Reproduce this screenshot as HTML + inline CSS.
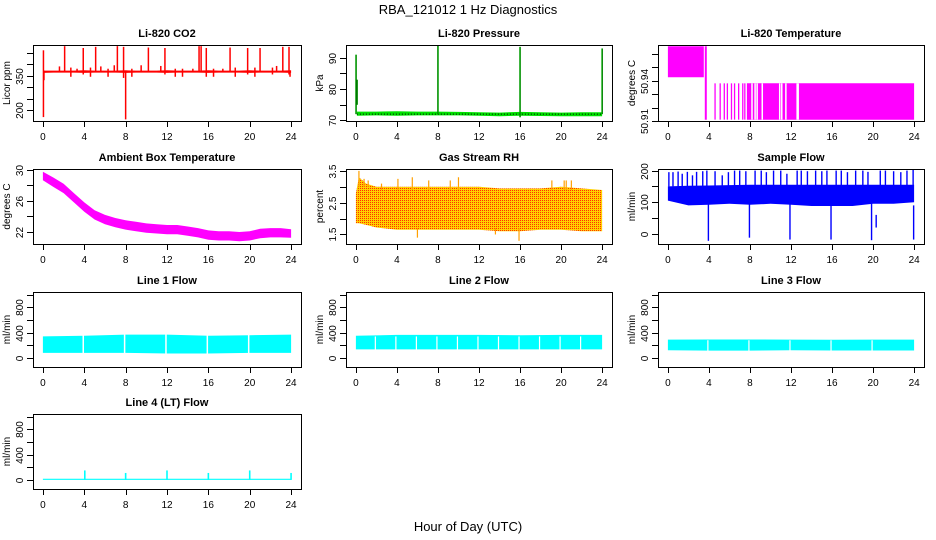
<!DOCTYPE html>
<html><head><meta charset="utf-8">
<style>
html,body{margin:0;padding:0;background:#fff;}
svg{display:block;font-family:"Liberation Sans",Helvetica,sans-serif;}
</style></head>
<body>
<svg id="chart" width="936" height="540" viewBox="0 0 936 540">
<defs>
<pattern id="rhpat" width="2" height="2" patternUnits="userSpaceOnUse">
<rect width="2" height="2" fill="#ffd000"/><rect width="1" height="1" fill="#ff3000"/>
</pattern>
</defs>
<text x="468" y="14" text-anchor="middle" font-size="13">RBA_121012  1 Hz Diagnostics</text>
<text x="468" y="531" text-anchor="middle" font-size="13">Hour of Day (UTC)</text>
</svg>
<script>
// ---- shared x axis ----
const xTicks = [0,4,8,12,16,20,24];
// ---- CO2 ----
const co2Hours = [0.05,1,2,3,4,5,6,7,8,9,10,11,12,13,14,15,16,17,18,19,20,21,22,23,24];
const co2Lo = [362,363,363,363,362,363,363,363,362,363,363,363,362,363,363,363,362,363,363,363,362,363,363,363,362];
const co2Hi = [372,372,372,372,373,372,372,372,373,372,372,372,373,372,372,372,373,372,372,372,373,372,372,372,373];
const co2SpikeX = [0.05,0.1,2.1,3.9,5.1,7.2,7.8,8.0,10.2,11.8,15.1,15.3,15.8,18.1,19.8,21.0,23.2,23.8,1.6,2.7,3.3,4.6,5.6,6.3,6.9,8.6,9.5,11.4,12.8,13.5,14.5,16.5,17.4,18.6,20.5,22.2,22.6,23.9];
const co2SpikeLo = [170,330,365,355,365,365,340,160,365,355,365,365,345,365,355,365,365,355,365,345,365,345,365,345,365,345,365,365,345,345,365,345,365,345,345,355,365,345];
const co2SpikeHi = [460,372,478,470,475,478,475,372,472,470,478,478,470,472,470,470,475,475,390,385,380,385,390,380,395,380,395,392,380,380,380,380,380,385,385,385,392,372];
// ---- Pressure ----
const presHours = [0.1,2,4,6,8,10,12,14,16,18,20,22,24];
const presLo = [71.5,71.6,71.5,71.6,71.6,71.6,71.5,71.3,71.5,71.4,71.3,71.3,71.3];
const presHi = [72.8,72.8,72.9,72.8,72.8,72.7,72.6,72.5,72.7,72.6,72.5,72.6,72.6];
const presSpikeX = [0.02,0.12,8.0,16.0,24.0];
const presSpikeLo = [72,75,72,71,72];
const presSpikeHi = [91,83,94,93.5,93];
// ---- Li-820 temperature ----
const ltHours = [0,3.5,3.6,3.8,7.7,24];
const ltLo = [50.9425,50.9425,50.911,50.911,50.911,50.911];
const ltHi = [50.9655,50.9655,50.9655,50.9655,50.938,50.938];
const ltLineX = [4.6,5.1,5.5,5.8,6.2,6.5,6.9,7.3,7.5];
const ltGapX = [8.2,8.5,8.7,9.2,10.9,11.1,11.5,12.6,12.7];
// ---- Ambient box temperature ----
const abHours = [0,1,2,3,4,5,6,7,8,9,10,11,12,13,14,15,16,17,18,19,20,21,22,23,24];
const abCenter = [29.2,28.4,27.6,26.4,25.2,24.2,23.6,23.2,22.9,22.7,22.5,22.4,22.3,22.3,22.1,21.9,21.6,21.5,21.5,21.4,21.5,21.8,21.9,21.9,21.8];
const abHalfWidth = [0.55,0.6,0.6,0.6,0.6,0.6,0.6,0.6,0.6,0.6,0.6,0.6,0.6,0.6,0.6,0.6,0.6,0.6,0.6,0.6,0.6,0.6,0.6,0.6,0.55];
// ---- Gas stream RH ----
const rhHours = [0,0.3,1,2,4,6,8,10,12,14,16,18,20,22,24];
const rhLo = [1.85,1.85,1.8,1.72,1.65,1.65,1.65,1.65,1.65,1.6,1.6,1.65,1.65,1.6,1.6];
const rhHi = [2.8,3.3,3.1,3.0,3.0,3.0,3.0,3.0,3.0,2.95,2.95,2.95,3.0,2.95,2.9];
const rhSpikeX = [0.3,0.8,1.2,2.5,4.1,5.5,6.0,7.1,9.2,10.0,13.6,15.9,19.1,20.3,20.5,21.0];
const rhSpikeLo = [3.0,3.0,3.0,2.9,2.9,2.9,1.4,2.9,2.9,2.9,1.5,1.3,2.9,2.9,2.9,2.9];
const rhSpikeHi = [3.5,3.25,3.2,3.1,3.25,3.3,1.7,3.2,3.2,3.3,1.7,1.7,3.2,3.2,3.2,3.2];
// ---- Sample flow ----
const sfHours = [0,2,4,6,8,10,12,14,16,18,20,22,24];
const sfLo = [105,90,92,95,92,95,92,88,88,88,95,95,100];
const sfHi = [150,152,153,154,155,155,155,155,155,155,155,155,155];
const sfSpikeX = [0.1,0.5,1.0,1.4,1.9,2.4,2.8,3.4,3.8,4.6,5.3,5.9,6.5,7.0,7.6,8.5,9.1,9.6,10.3,11.0,11.6,12.6,13.0,13.6,14.4,15.0,15.5,16.4,16.9,17.5,18.3,19.0,19.5,20.7,21.2,22.0,22.7,23.3,23.9,3.95,7.95,11.9,15.9,19.85,20.3,23.95];
const sfSpikeLo = [150,150,150,150,150,150,150,150,150,150,150,150,150,150,150,150,150,150,150,150,150,150,150,150,150,150,150,150,150,150,150,150,150,150,150,150,150,150,150,-22,-12,-18,-18,-20,20,-18];
const sfSpikeHi = [195,195,197,190,196,185,196,198,200,198,185,195,200,200,198,200,200,195,200,200,190,200,200,198,200,198,200,200,200,195,200,200,196,200,200,198,195,200,203,150,150,150,150,150,60,90];
// ---- Line flows ----
const flowHours = [0,4,8,12,16,20,24];
const l1Lo = [80,80,80,70,70,80,80];
const l1Hi = [340,350,370,370,350,360,370];
const l2Lo = [135,135,135,135,135,135,135];
const l2Hi = [350,365,365,365,360,365,365];
const l3Lo = [120,115,115,120,118,118,118];
const l3Hi = [290,292,292,290,288,290,290];
const l4Lo = [0,0,0,0,0,0,0];
const l4Hi = [18,18,18,18,18,18,18];
const flowGapX = [3.9,7.9,11.9,15.9,19.9];
const l4SpikeX = [4.05,8.0,12.0,16.0,20.0,24.0];
const l4SpikeHi = [150,110,150,110,150,110];
// ---- axis ticks ----
const co2Ticks = [200,250,300,350,400,450];
const co2TickLabels = ["200","","","350","",""];
const presTicks = [70,75,80,85,90];
const presTickLabels = ["70","","80","","90"];
const ltTicks = [50.91,50.92,50.93,50.94,50.95,50.96];
const ltTickLabels = ["50.91","","","50.94","",""];
const abTicks = [22,24,26,28,30];
const abTickLabels = ["22","","26","","30"];
const rhTicks = [1.5,2.0,2.5,3.0,3.5];
const rhTickLabels = ["1.5","","2.5","","3.5"];
const sfTicks = [0,50,100,150,200];
const sfTickLabels = ["0","","100","","200"];
const flowTicks = [-200,0,200,400,600,800,1000];
const flowTickLabels = ["","0","","400","","800",""];

const NS = "http://www.w3.org/2000/svg";
const svg = document.getElementById("chart");
function mk(tag, attrs, parent){const e=document.createElementNS(NS,tag);for(const k in attrs)e.setAttribute(k,attrs[k]);(parent||svg).appendChild(e);return e;}

const cols = [[33,301],[346,612],[658,924]];
const rows = [[45,121],[169,244],[292,367],[414,489]];

function panel(name, title, ylab, c, r, ymin, ymax, ticks, tlabels){
  const [x0,x1]=cols[c],[y0,y1]=rows[r];
  const g = mk("g",{});
  
  
  const xs = v => x0 + (v+0.96)/25.92*(x1-x0);
  const ys = v => y1 - (v-ymin)/(ymax-ymin)*(y1-y0);
  const t = mk("text",{x:(x0+x1)/2,y:y0-8,"text-anchor":"middle","font-size":"11","font-weight":"bold"},g);
  t.textContent = title;
  
  
  const yl = mk("text",{transform:`translate(${x0-23},${(y0+y1)/2}) rotate(-90)`,"text-anchor":"middle","font-size":"10"},g);
  yl.textContent = ylab;
  
  
  const plot = mk("g",{},g);
  
  
  const ax = mk("g",{stroke:"#000","stroke-width":"1",fill:"none"},g);
  
  
  mk("rect",{x:x0+0.5,y:y0+0.5,width:x1-x0,height:y1-y0},ax);
  mk("line",{x1:xs(0),x2:xs(24),y1:y1+0.5,y2:y1+0.5},ax);
  xTicks.forEach(v=>{
    mk("line",{x1:Math.round(xs(v))+0.5,x2:Math.round(xs(v))+0.5,y1:y1,y2:y1+6},ax);
    const l=mk("text",{x:xs(v),y:y1+19,"text-anchor":"middle","font-size":"10",fill:"#000",stroke:"none"},g);
    l.textContent=v;
    
    
  });
  const visT = ticks.filter(v=>v>=ymin&&v<=ymax);
  if(visT.length) mk("line",{x1:x0+0.5,x2:x0+0.5,y1:ys(visT[0]),y2:ys(visT[visT.length-1])},ax);
  ticks.forEach((v,i)=>{
    if(v<ymin||v>ymax) return;
    const yy=Math.round(ys(v))+0.5;
    mk("line",{x1:x0-6,x2:x0,y1:yy,y2:yy},ax);
    if(tlabels[i]){
      const l=mk("text",{transform:`translate(${x0-10},${yy}) rotate(-90)`,"text-anchor":"middle","font-size":"10"},g);
      l.textContent=tlabels[i];
      
      
    }
  });
  return {plot,xs,ys,y0,y1};
}
function band(p, name, hours, lo, hi, fill){
  let d="";
  hours.forEach((h,i)=>{d+=(i?"L":"M")+p.xs(h).toFixed(1)+","+p.ys(hi[i]).toFixed(1);});
  for(let i=hours.length-1;i>=0;i--) d+="L"+p.xs(hours[i]).toFixed(1)+","+p.ys(lo[i]).toFixed(1);
  const e=mk("path",{d:d+"Z",fill:fill},p.plot);
  
  
}
function spikes(p, name, xsArr, loArr, hiArr, color, w){
  xsArr.forEach((x,i)=>{
    const e=mk("line",{x1:p.xs(x),x2:p.xs(x),y1:p.ys(loArr[i]),y2:p.ys(hiArr[i]),stroke:color,"stroke-width":w||1.2},p.plot);
    
    
  });
}
function gaps(p, name, xsArr, yTop, yBot, w){
  xsArr.forEach(x=>{
    const e=mk("rect",{x:p.xs(x)-w/2,y:p.ys(yTop),width:w,height:p.ys(yBot)-p.ys(yTop),fill:"#fff"},p.plot);
    
    
  });
}

// CO2
let p = panel("co2-panel","Li-820 CO2","Licor ppm",0,0,153,483,co2Ticks,co2TickLabels);
band(p,"co2-band",co2Hours,co2Lo,co2Hi,"#ff0000");
spikes(p,"co2-spike",co2SpikeX,co2SpikeLo,co2SpikeHi,"#ff0000",1.5);
// Pressure
p = panel("pressure-panel","Li-820 Pressure","kPa",1,0,69.8,94.1,presTicks,presTickLabels);
band(p,"pressure-band",presHours,presLo,presHi,"#00e000");
mk("line",{x1:p.xs(0.1),x2:p.xs(24),y1:p.ys(72),y2:p.ys(72),stroke:"#000","stroke-dasharray":"1,2","stroke-width":1},p.plot);
spikes(p,"pressure-spike",presSpikeX,presSpikeLo,presSpikeHi,"#00d000",1.6);
spikes(p,"pressure-spike-dots",presSpikeX,presSpikeLo,presSpikeHi,"#003000",0.6);
// Li-820 temperature
p = panel("li820-temp-panel","Li-820 Temperature","degrees C",2,0,50.91,50.9665,ltTicks,ltTickLabels);
band(p,"li820-temp-upper",ltHours.slice(0,2),ltLo.slice(0,2),ltHi.slice(0,2),"#ff00ff");
band(p,"li820-temp-switch",ltHours.slice(2,4),ltLo.slice(2,4),ltHi.slice(2,4),"#ff00ff");
band(p,"li820-temp-lower",ltHours.slice(4),ltLo.slice(4),ltHi.slice(4),"#ff00ff");
spikes(p,"li820-temp-line",ltLineX,ltLineX.map(()=>50.911),ltLineX.map(()=>50.938),"#ff00ff",1.3);
gaps(p,"li820-temp-gap",ltGapX,50.938,50.911,1.5);
// Ambient
p = panel("ambient-temp-panel","Ambient Box Temperature","degrees C",0,1,20.45,30.1,abTicks,abTickLabels);
band(p,"ambient-temp-band",abHours,abCenter.map((v,i)=>v-abHalfWidth[i]),abCenter.map((v,i)=>v+abHalfWidth[i]),"#ff00ff");
// RH
p = panel("rh-panel","Gas Stream RH","percent",1,1,1.2,3.56,rhTicks,rhTickLabels);
band(p,"rh-band",rhHours,rhLo,rhHi,"url(#rhpat)");
spikes(p,"rh-spike",rhSpikeX,rhSpikeLo,rhSpikeHi,"#ffa000",1.2);
// Sample flow
p = panel("sample-flow-panel","Sample Flow","ml/min",2,1,-32,205,sfTicks,sfTickLabels);
band(p,"sample-flow-band",sfHours,sfLo,sfHi,"#0000ff");
spikes(p,"sample-flow-spike",sfSpikeX,sfSpikeLo,sfSpikeHi,"#0000ff",1.4);
// Line flows
p = panel("line1-flow-panel","Line 1 Flow","ml/min",0,2,-144,1044,flowTicks,flowTickLabels);
band(p,"line1-flow-band",flowHours,l1Lo,l1Hi,"#00ffff");
gaps(p,"line1-flow-gap",flowGapX,400,40,1.5);
p = panel("line2-flow-panel","Line 2 Flow","ml/min",1,2,-144,1044,flowTicks,flowTickLabels);
band(p,"line2-flow-band",flowHours,l2Lo,l2Hi,"#00ffff");
gaps(p,"line2-flow-gap",[1.9,3.9,5.9,7.9,9.9,11.9,13.9,15.9,17.9,19.9,21.9],340,120,1.2);
p = panel("line3-flow-panel","Line 3 Flow","ml/min",2,2,-144,1044,flowTicks,flowTickLabels);
band(p,"line3-flow-band",flowHours,l3Lo,l3Hi,"#00ffff");
gaps(p,"line3-flow-gap",flowGapX,280,100,1.2);
p = panel("line4-flow-panel","Line 4 (LT) Flow","ml/min",0,3,-144,1044,flowTicks,flowTickLabels);
band(p,"line4-flow-band",flowHours,l4Lo,l4Hi,"#00ffff");
spikes(p,"line4-flow-spike",l4SpikeX,l4SpikeX.map(()=>0),l4SpikeHi,"#00ffff",1.6);
</script>
</body></html>
